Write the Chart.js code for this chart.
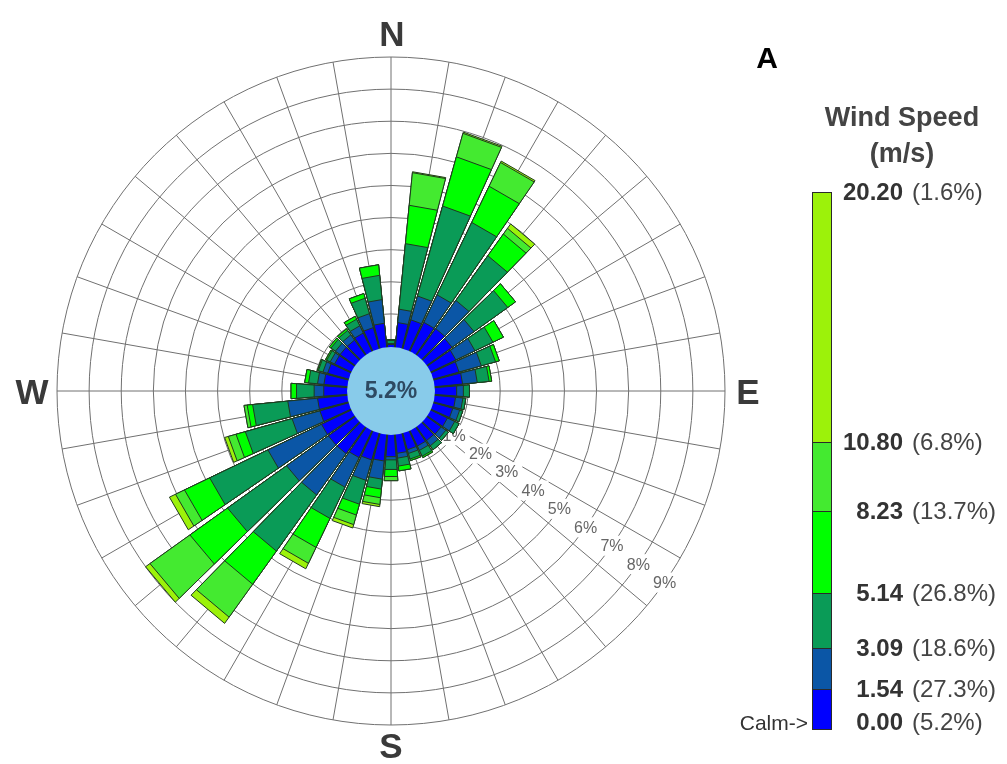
<!DOCTYPE html>
<html>
<head>
<meta charset="utf-8">
<title>Wind Rose A</title>
<script src="https://cdn.jsdelivr.net/npm/chart.js@4/dist/chart.umd.min.js"></script>
<style>
  html, body { margin:0; padding:0; background:#ffffff; }
  #wrap { position:relative; width:1007px; height:764px; overflow:hidden; font-family:"Liberation Sans", Arial, sans-serif; }
  #rose { position:absolute; left:0; top:0; }
  .t { position:absolute; white-space:nowrap; line-height:1; }
  .c { transform:translate(-50%,-50%); }
  .dir { font-size:35px; font-weight:bold; color:#3a3a3a; }
  .panel { font-size:30px; font-weight:bold; color:#000000; }
  .ttl { font-size:27px; font-weight:bold; color:#444444; }
  .num { font-size:24px; font-weight:bold; color:#333333; transform:translateY(-50%); }
  .pct { font-size:24px; color:#444444; transform:translateY(-50%); }
  .calm { font-size:21px; color:#333333; transform:translateY(-50%); }
</style>
</head>
<body>
<div id="wrap">
  <canvas id="rose" width="1007" height="764"></canvas>
</div>
<script>
// ---------------- data ----------------
const directions = ['0°','10°','20°','30°','40°','50°','60°','70°','80°','90°','100°','110°',
                    '120°','130°','140°','150°','160°','170°','180°','190°','200°','210°','220°','230°',
                    '240°','250°','260°','270°','280°','290°','300°','310°','320°','330°','340°','350°'];

// frequency (%) per direction for each wind-speed class (m/s)
const speed_000_154 = [0.05,0.74,0.90,0.97,0.99,0.94,0.84,0.80,0.84,0.65,0.62,0.60,
                       0.55,0.52,0.50,0.50,0.50,0.55,0.65,0.79,0.83,0.90,1.00,1.00,
                       1.00,0.90,0.90,0.70,0.70,0.65,0.55,0.55,0.55,0.60,0.65,0.72];
const speed_154_309 = [0.03,0.42,0.77,0.95,1.08,0.84,0.66,0.72,0.46,0.21,0.23,0.22,
                       0.25,0.18,0.20,0.15,0.12,0.15,0.10,0.57,0.66,1.02,1.58,1.60,
                       1.85,0.90,0.93,0.30,0.20,0.15,0.15,0.18,0.20,0.25,0.45,0.74];
const speed_309_514 = [0.10,2.05,2.91,2.50,1.71,1.29,0.62,0.46,0.37,0.19,0.09,0.10,
                       0.15,0.10,0.15,0.20,0.18,0.25,0.30,0.31,0.77,1.08,2.15,2.26,
                       2.01,1.51,1.10,0.55,0.28,0.15,0.12,0.17,0.17,0.23,0.50,0.76];
const speed_514_823 = [0.02,1.20,1.59,1.25,0.83,0.30,0.36,0.12,0.08,0.00,0.00,0.00,
                       0.00,0.00,0.00,0.05,0.05,0.15,0.22,0.27,0.35,1.00,1.27,1.44,
                       0.87,0.30,0.17,0.17,0.12,0.03,0.04,0.06,0.06,0.10,0.15,0.33];
const speed_823_1080 = [0.00,1.02,0.76,0.82,0.22,0.00,0.00,0.00,0.00,0.00,0.00,0.00,
                        0.00,0.00,0.00,0.00,0.00,0.00,0.13,0.21,0.31,0.55,1.26,1.53,
                        0.31,0.25,0.10,0.00,0.00,0.00,0.00,0.00,0.00,0.00,0.00,0.00];
const speed_1080_2020 = [0.00,0.03,0.04,0.05,0.17,0.00,0.00,0.00,0.00,0.00,0.00,0.00,
                         0.00,0.00,0.00,0.00,0.00,0.00,0.00,0.07,0.11,0.19,0.24,0.17,
                         0.21,0.12,0.00,0.00,0.00,0.00,0.00,0.00,0.00,0.00,0.00,0.00];

const speedBounds  = [0.00, 1.54, 3.09, 5.14, 8.23, 10.80, 20.20];   // m/s
const classPercents = [27.3, 18.6, 26.8, 13.7, 6.8, 1.6];            // % per class
const calmPercent  = 5.2;
const ringTicks    = [1, 2, 3, 4, 5, 6, 7, 8, 9];                     // % rings
const compassLabels = ['N', 'E', 'S', 'W'];

// ---------------- styles ----------------
const classColors = ['#0000ff', '#0b56a6', '#0a9b57', '#00ff00', '#44ea30', '#9cf20a'];
const outline = '#1f381f';
const gridColor = '#707070';

// ---------------- build stacked (cumulative) datasets ----------------
const speedSeries = [speed_000_154, speed_154_309, speed_309_514, speed_514_823, speed_823_1080, speed_1080_2020];
const cumulative = [];
let running = directions.map(() => 0);
speedSeries.forEach(arr => {
  running = running.map((v, i) => Math.round((v + arr[i]) * 10000) / 10000);
  cumulative.push(running);
});
const datasets = speedSeries.map((arr, k) => ({
  label: speedBounds[k].toFixed(2) + ' - ' + speedBounds[k + 1].toFixed(2) + ' m/s',
  data: cumulative[k],
  backgroundColor: classColors[k],
  borderColor: outline,
  borderWidth: 1,
  borderJoinStyle: 'miter',
  circular: false
}));

// ---------------- plugin: gaps, spokes, ring labels, calm circle ----------------
const roseDecor = {
  id: 'roseDecor',
  afterDatasetsUpdate(chart, args, opts) {
    const gap = opts.gapDeg * Math.PI / 180;
    chart.data.datasets.forEach((ds, i) => {
      chart.getDatasetMeta(i).data.forEach(arc => {
        arc.startAngle += gap / 2;
        arc.endAngle -= gap / 2;
      });
    });
  },
  beforeDatasetsDraw(chart, args, opts) {
    const s = chart.scales.r, ctx = chart.ctx;
    const n = chart.data.labels.length;
    ctx.save();
    ctx.strokeStyle = gridColor;
    ctx.lineWidth = 1;
    for (let i = 0; i < n; i++) {
      const a = i * 2 * Math.PI / n - Math.PI / 2;
      ctx.beginPath();
      ctx.moveTo(s.xCenter, s.yCenter);
      ctx.lineTo(s.xCenter + Math.cos(a) * s.drawingArea, s.yCenter + Math.sin(a) * s.drawingArea);
      ctx.stroke();
    }
    // ring labels with white backdrop
    const la = (opts.labelAngleDeg - 90) * Math.PI / 180;
    ctx.font = '16px "Liberation Sans", Arial, sans-serif';
    ctx.textAlign = 'center';
    ctx.textBaseline = 'middle';
    ringTicks.forEach(v => {
      const r = s.getDistanceFromCenterForValue(v);
      const x = s.xCenter + Math.cos(la) * r, y = s.yCenter + Math.sin(la) * r;
      const txt = v + '%';
      const w = ctx.measureText(txt).width;
      ctx.fillStyle = '#ffffff';
      ctx.fillRect(x - w / 2 - 4, y - 10, w + 8, 20);
      ctx.fillStyle = '#666666';
      ctx.fillText(txt, x, y + 1);
    });
    ctx.restore();
  },
  afterDatasetsDraw(chart) {
    const s = chart.scales.r, ctx = chart.ctx;
    const r0 = s.getDistanceFromCenterForValue(0) - 1;
    ctx.save();
    ctx.beginPath();
    ctx.arc(s.xCenter, s.yCenter, r0, 0, Math.PI * 2);
    ctx.fillStyle = '#88cbea';
    ctx.fill();
    ctx.font = 'bold 23px "Liberation Sans", Arial, sans-serif';
    ctx.textAlign = 'center';
    ctx.textBaseline = 'middle';
    ctx.fillStyle = '#2e4a62';
    ctx.fillText(calmPercent.toFixed(1) + '%', s.xCenter, s.yCenter + 1);
    ctx.restore();
  }
};

new Chart(document.getElementById('rose'), {
  type: 'polarArea',
  data: { labels: directions, datasets: datasets },
  options: {
    responsive: false,
    animation: false,
    events: [],
    layout: { padding: { left: 57, top: 57, right: 282, bottom: 39 } },
    plugins: {
      legend: { display: false },
      tooltip: { enabled: false },
      roseDecor: { gapDeg: 1.2, labelAngleDeg: 125 }
    },
    scales: {
      r: {
        min: -1.4,
        max: 9,
        startAngle: -5,
        afterBuildTicks: scale => { scale.ticks = ringTicks.map(v => ({ value: v })); },
        ticks: { display: false, stepSize: 1 },
        grid: { circular: true, color: gridColor, lineWidth: 1 },
        angleLines: { display: false },
        pointLabels: { display: false }
      }
    }
  },
  plugins: [roseDecor]
});

// ---------------- text overlays & legend ----------------
const wrap = document.getElementById('wrap');
function addText(txt, cls, styles) {
  const d = document.createElement('div');
  d.className = 't ' + cls;
  d.textContent = txt;
  Object.assign(d.style, styles);
  wrap.appendChild(d);
  return d;
}
const compassPos = [[392, 33], [748, 391], [391, 745], [32, 391]];
compassLabels.forEach((l, i) => addText(l, 'dir c', { left: compassPos[i][0] + 'px', top: compassPos[i][1] + 'px' }));
addText('A', 'panel c', { left: '767px', top: '58px' });
addText('Wind Speed', 'ttl c', { left: '902px', top: '117px' });
addText('(m/s)', 'ttl c', { left: '902px', top: '153px' });

const barTop = 192, barBottom = 730, barLeft = 812, barWidth = 20;
const vMin = speedBounds[0], vMax = speedBounds[speedBounds.length - 1];
const yOf = v => barBottom - (v - vMin) / (vMax - vMin) * (barBottom - barTop);
classColors.forEach((col, k) => {
  const yT = yOf(speedBounds[k + 1]), yB = yOf(speedBounds[k]);
  const d = document.createElement('div');
  Object.assign(d.style, {
    position: 'absolute', left: barLeft + 'px', top: yT + 'px', width: barWidth + 'px',
    height: (yB - yT) + 'px', background: col, boxSizing: 'border-box',
    borderLeft: '1px solid #2a2a2a', borderRight: '1px solid #2a2a2a', borderTop: '1px solid #2a2a2a',
    borderBottom: k === 0 ? '1px solid #2a2a2a' : 'none'
  });
  wrap.appendChild(d);
});
speedBounds.forEach((b, j) => {
  let y = yOf(b);
  if (j === 0) y -= 8;
  addText(b.toFixed(2), 'num', { right: (1007 - 903) + 'px', top: y + 'px' });
  const p = j === 0 ? calmPercent : classPercents[j - 1];
  addText('(' + p.toFixed(1) + '%)', 'pct', { left: '912px', top: y + 'px' });
});
addText('Calm->', 'calm', { right: (1007 - 808) + 'px', top: (yOf(0) - 8) + 'px' });
</script>
</body>
</html>
